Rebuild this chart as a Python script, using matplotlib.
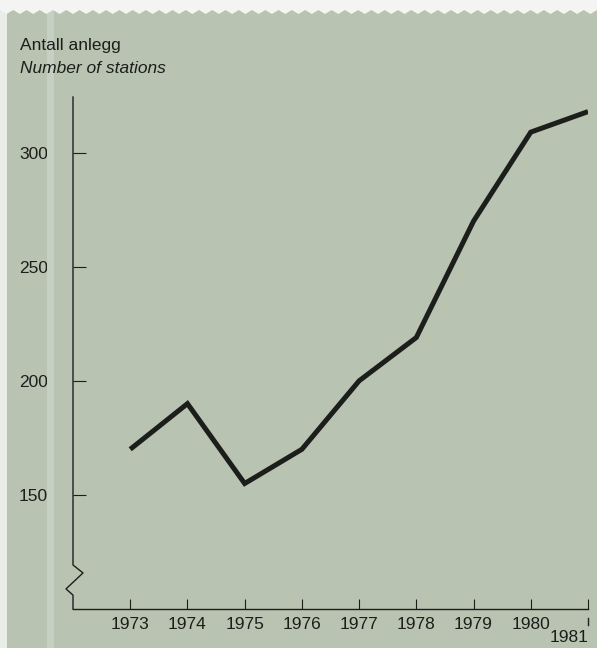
import matplotlib
matplotlib.use("Agg")
import matplotlib.pyplot as plt
from matplotlib.patches import Rectangle, Polygon
from matplotlib.lines import Line2D

# Number of stations per year
years = [1973, 1974, 1975, 1976, 1977, 1978, 1979, 1980, 1981]
stations = [170, 190, 155, 170, 200, 219, 270, 309, 318]
y_ticks = [150, 200, 250, 300]
x_tick_labels = ["1973", "1974", "1975", "1976", "1977", "1978", "1979", "1980", ""]

plt.rcParams["font.family"] = ["Liberation Sans", "DejaVu Sans"]

BG = "#b8c3b1"
INK = "#1c1e1b"
W, H = 597, 648

fig = plt.figure(figsize=(W / 100, H / 100), dpi=100, facecolor=BG)

# paper edges: off-white margin on the left and a torn strip on top
fig.patches.append(Rectangle((0, 0), 7 / W, 1, transform=fig.transFigure,
                             facecolor="#e9ede8", edgecolor="none", zorder=0))
fig.patches.append(Rectangle((47 / W, 0), 7 / W, 1, transform=fig.transFigure,
                             facecolor="#c6d0c2", edgecolor="none", zorder=0))
saw = [(0, 1), (1, 1)]
n_teeth = 90
pts = []
for i in range(n_teeth + 1):
    x = i / n_teeth
    y = (H - 10) / H if i % 2 == 0 else (H - 14) / H
    pts.append((x, y))
fig.patches.append(Polygon(saw + pts[::-1], closed=True, transform=fig.transFigure,
                           facecolor="#f4f5f3", edgecolor="none", zorder=0))

left, right = 73 / W, 588 / W
bottom, top = (H - 609) / H, (H - 97) / H
ax = fig.add_axes([left, bottom, right - left, top - bottom])
ax.set_facecolor("none")

ax.plot(years, stations, color=INK, lw=3.6, solid_joinstyle="miter",
        solid_capstyle="butt", zorder=5)

ax.set_xlim(1972, 1981)
ax.set_ylim(100, 324.4)

for s in ("top", "right", "left"):
    ax.spines[s].set_visible(False)
ax.spines["bottom"].set_color(INK)
ax.spines["bottom"].set_linewidth(1.0)

# y axis drawn by hand with a break mark near the bottom
px_x = 1 / (right - left) / W  # one pixel in axes-x fraction
brk = [(0, 324.4), (0, 119.3), (10 * px_x, 115.8), (-7 * px_x, 108.8),
       (0, 106.1), (0, 100)]
ax.add_line(Line2D([p[0] for p in brk], [p[1] for p in brk], color=INK, lw=1.0,
                   transform=ax.get_yaxis_transform(), clip_on=False))

ax.set_yticks(y_ticks)
ax.set_yticklabels([str(v) for v in y_ticks])
ax.tick_params(axis="y", direction="in", length=9.5, width=0.8, color=INK,
               pad=18, labelsize=12.5, labelcolor=INK)

ax.set_xticks(years)
ax.set_xticklabels(x_tick_labels)
ax.tick_params(axis="x", direction="in", length=7, width=0.8, color=INK,
               pad=6, labelsize=12.5, labelcolor=INK)

# last year label hangs lower, joined to its tick by a short stroke
ax.annotate("", xy=(1981, 0), xycoords=("data", "axes fraction"))
ax.add_line(Line2D([1981, 1981], [-9 / 512, -16 / 512], color=INK, lw=1.0,
                   transform=ax.get_xaxis_transform(), clip_on=False))
ax.text(1981, -21 / 512, "1981", transform=ax.get_xaxis_transform(),
        ha="right", va="top", fontsize=12.5, color=INK)

fig.text(20 / W, 1 - 50 / H, "Antall anlegg", ha="left", va="baseline",
         fontsize=12.5, color=INK)
fig.text(20 / W, 1 - 73 / H, "Number of stations", ha="left", va="baseline",
         fontsize=12.5, style="italic", color=INK)

fig.savefig("out.png", dpi=100, facecolor=BG)
